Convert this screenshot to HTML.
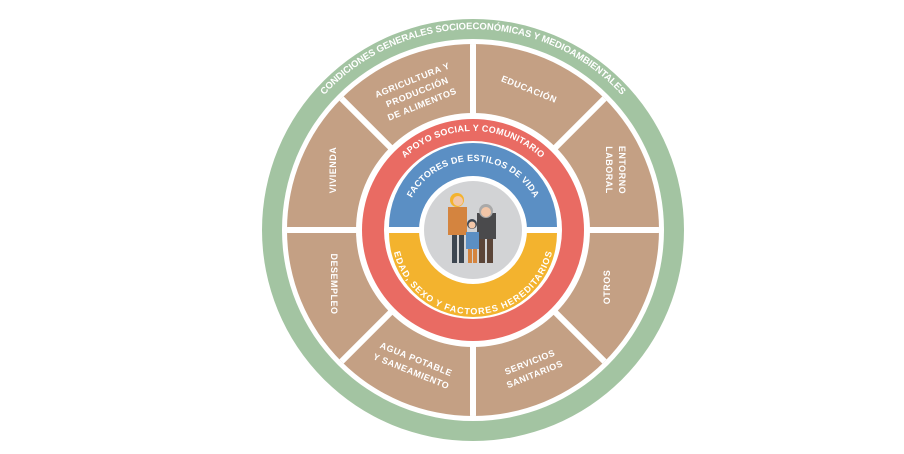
<!DOCTYPE html>
<html><head><meta charset="utf-8"><style>
html,body{margin:0;padding:0;background:#fff;width:904px;height:454px;overflow:hidden}
svg{display:block}
text{font-family:"Liberation Sans",sans-serif;fill:#fff;font-weight:bold}
</style></head><body>
<svg width="904" height="454" viewBox="0 0 904 454">
<defs>
<path id="pg2" d="M 305 340 A 200.8 200.8 0 1 1 641 340"/>
<path id="prr" d="M 401.6 161.4 A 99 99 0 0 1 544.4 161.4"/>
<path id="pb" d="M 404 230 A 69 69 0 0 1 542 230"/>
<path id="py" d="M 398 233 A 75 75 0 0 0 548 233"/>
<clipPath id="oct"><circle cx="473" cy="230" r="186"/></clipPath>
</defs>
<circle cx="473" cy="230" r="211" fill="#a3c4a2"/>
<circle cx="473" cy="230" r="191" fill="#fff"/>
<g clip-path="url(#oct)">
<rect x="280" y="40" width="390" height="380" fill="#c4a084"/>
<g stroke="#fff" stroke-width="6">
<line x1="473" y1="20" x2="473" y2="440"/>
<line x1="270" y1="230" x2="680" y2="230"/>
<line x1="273" y1="30" x2="673" y2="430"/>
<line x1="673" y1="30" x2="273" y2="430"/>
</g>
</g>
<circle cx="473" cy="230" r="117" fill="#fff"/>
<circle cx="473" cy="230" r="111" fill="#e96b63"/>
<circle cx="473" cy="230" r="89" fill="#fff"/>
<path d="M 389 227 A 84 84 0 0 1 557 227 Z" fill="#5b8fc4"/>
<path d="M 389 233 A 84 84 0 0 0 557 233 Z" fill="#f3b32e"/>
<circle cx="473" cy="230" r="54" fill="#fff"/>
<circle cx="473" cy="230" r="49" fill="#d2d3d5"/>
<!-- figures -->
<rect x="448" y="207" width="19" height="28" fill="#d4843f"/>
<rect x="452" y="235" width="5" height="28" fill="#3d4650"/>
<rect x="459" y="235" width="5" height="28" fill="#3d4650"/>
<circle cx="457" cy="200" r="7" fill="#f3b32e"/>
<circle cx="458" cy="201" r="5" fill="#f2c6a8"/>
<rect x="477" y="213" width="19" height="26" fill="#4a4a4c"/>
<rect x="479" y="239" width="6" height="24" fill="#5b4538"/>
<rect x="487" y="239" width="6" height="24" fill="#5b4538"/>
<circle cx="486" cy="211" r="7" fill="#a9a9a9"/>
<circle cx="486" cy="212" r="5" fill="#f2c6a8"/>
<rect x="466" y="232" width="13" height="17" fill="#5b8fc4"/>
<rect x="468" y="249" width="4" height="14" fill="#d4843f"/>
<rect x="473" y="249" width="4" height="14" fill="#d4843f"/>
<circle cx="472" cy="224" r="5" fill="#3d4650"/>
<circle cx="472" cy="225" r="3.5" fill="#f2c6a8"/>
<!-- ring texts -->
<text font-size="9.5"><textPath href="#pg2" startOffset="50%" text-anchor="middle" textLength="335" lengthAdjust="spacing">CONDICIONES GENERALES SOCIOECONÓMICAS Y MEDIOAMBIENTALES</textPath></text>
<text font-size="9"><textPath href="#prr" startOffset="50%" text-anchor="middle" textLength="150" lengthAdjust="spacing">APOYO SOCIAL Y COMUNITARIO</textPath></text>
<text font-size="9"><textPath href="#pb" startOffset="50%" text-anchor="middle" textLength="150" lengthAdjust="spacing">FACTORES DE ESTILOS DE VIDA</textPath></text>
<text font-size="9"><textPath href="#py" startOffset="50%" text-anchor="middle" dominant-baseline="hanging" textLength="200" lengthAdjust="spacing">EDAD, SEXO Y FACTORES HEREDITARIOS</textPath></text>
<!-- panel labels -->
<g font-size="9" text-anchor="middle" letter-spacing="0.5">
<text transform="translate(336,170) rotate(-90)">VIVIENDA</text>
<text transform="translate(331,284) rotate(90)">DESEMPLEO</text>
<text transform="translate(610,287) rotate(-90)">OTROS</text>
<text transform="translate(612,170) rotate(90)"><tspan x="0" y="-7">ENTORNO</tspan><tspan x="0" y="6">LABORAL</tspan></text>
<text transform="translate(418,94) rotate(-22)"><tspan x="0" y="-12">AGRICULTURA Y</tspan><tspan x="0" y="1">PRODUCCIÓN</tspan><tspan x="0" y="14">DE ALIMENTOS</tspan></text>
<text transform="translate(528,92) rotate(22)">EDUCACIÓN</text>
<text transform="translate(415,362) rotate(22)"><tspan x="0" y="0">AGUA POTABLE</tspan><tspan x="0" y="13">Y SANEAMIENTO</tspan></text>
<text transform="translate(531,365) rotate(-22)"><tspan x="0" y="0">SERVICIOS</tspan><tspan x="0" y="13">SANITARIOS</tspan></text>
</g>
</svg>
</body></html>
